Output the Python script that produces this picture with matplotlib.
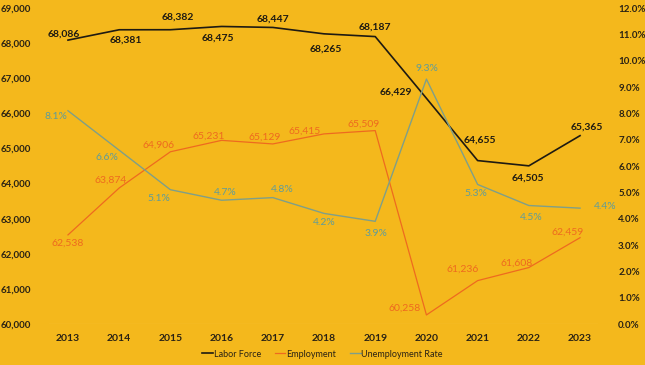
import matplotlib.pyplot as plt
from matplotlib.ticker import FuncFormatter

# ---------------------------------------------------------
# Data
# ---------------------------------------------------------
years = ["2013", "2014", "2015", "2016", "2017", "2018",
         "2019", "2020", "2021", "2022", "2023"]
labor_force = [68086, 68381, 68382, 68475, 68447, 68265,
               68187, 66429, 64655, 64505, 65365]
employment = [62538, 63874, 64906, 65231, 65129, 65415,
              65509, 60258, 61236, 61608, 62459]
unemployment_rate = [8.1, 6.6, 5.1, 4.7, 4.8, 4.2,
                     3.9, 9.3, 5.3, 4.5, 4.4]

# label offsets (pixels) for each data label
lf_off = [(-4, 6), (7, -10), (7, 13), (-4, -12), (0, 8), (2, -15),
          (0, 9), (-31, 6), (2, 20), (-1, -12), (7, 9)]
emp_off = [(0, -8), (-9, 8), (-12, 7), (-13, 4), (-8, 7), (-19, 3),
           (-12, 6), (-22, 7), (-15, 11), (-12, 4), (-12, 5)]
ur_off = [(-12, -6), (-12, -7), (-12, -9), (4, 8), (9, 8), (0, -9),
          (1, -12), (1, 11), (-2, -9), (2, -12), (25, 2)]

BG = "#F4B81C"
C_LF = "#1E1A12"
C_EMP = "#EE6A1F"
C_UR = "#7F9F88"
C_UR_TXT = "#5F9C9A"

plt.rcParams["font.family"] = ["Lato", "DejaVu Sans"]

fig = plt.figure(figsize=(6.45, 3.65), dpi=100, facecolor=BG)
ax = fig.add_axes([0.0657, 0.1123, 0.8733, 0.8657])
ax.set_facecolor(BG)
ax2 = ax.twinx()

x = list(range(len(years)))

l1, = ax.plot(x, labor_force, color=C_LF, lw=1.2, label="Labor Force")
l2, = ax.plot(x, employment, color=C_EMP, lw=0.9, label="Employment")
l3, = ax2.plot(x, unemployment_rate, color=C_UR, lw=1.0, label="Unemployment Rate")

ax.set_xlim(-0.5, len(years) - 0.5)
ax.set_ylim(60000, 69000)
ax2.set_ylim(0, 12)
ax.set_yticks(range(60000, 69001, 1000))
ax2.set_yticks(range(0, 13))
ax.yaxis.set_major_formatter(FuncFormatter(lambda v, p: f"{int(v):,}"))
ax2.yaxis.set_major_formatter(FuncFormatter(lambda v, p: f"{v:.1f}%"))
ax.set_xticks(x)
ax.set_xticklabels(years)

for a in (ax, ax2):
    for s in a.spines.values():
        s.set_visible(False)
    a.tick_params(length=0, labelsize=7, colors="#2a2214")
    for t in a.get_yticklabels() + a.get_xticklabels():
        t.set_fontweight("bold")
ax.tick_params(axis="y", pad=8)
ax2.tick_params(axis="y", pad=9)
ax.tick_params(axis="x", pad=7, labelsize=7.5)

ax.axhline(60000, color="#F7D36E", lw=0.8, xmin=0.012, xmax=0.985)

# data labels
for i in x:
    ax.annotate(f"{labor_force[i]:,}", (i, labor_force[i]), xytext=lf_off[i],
                textcoords="offset pixels", ha="center", va="center",
                fontsize=7.5, fontweight="bold", color=C_LF)
    ax.annotate(f"{employment[i]:,}", (i, employment[i]), xytext=emp_off[i],
                textcoords="offset pixels", ha="center", va="center",
                fontsize=7.5, color=C_EMP)
    ax2.annotate(f"{unemployment_rate[i]:.1f}%", (i, unemployment_rate[i]),
                 xytext=ur_off[i], textcoords="offset pixels",
                 ha="center", va="center", fontsize=7.5, color=C_UR_TXT)

leg = fig.legend(handles=[l1, l2, l3], loc="center", bbox_to_anchor=(0.5, 0.03),
                 ncol=3, frameon=False, fontsize=6.5, handlelength=1.2,
                 handletextpad=0.1, columnspacing=1.5)
for t in leg.get_texts():
    t.set_color("#2a2214")

fig.savefig("out.png", dpi=100, facecolor=BG)
